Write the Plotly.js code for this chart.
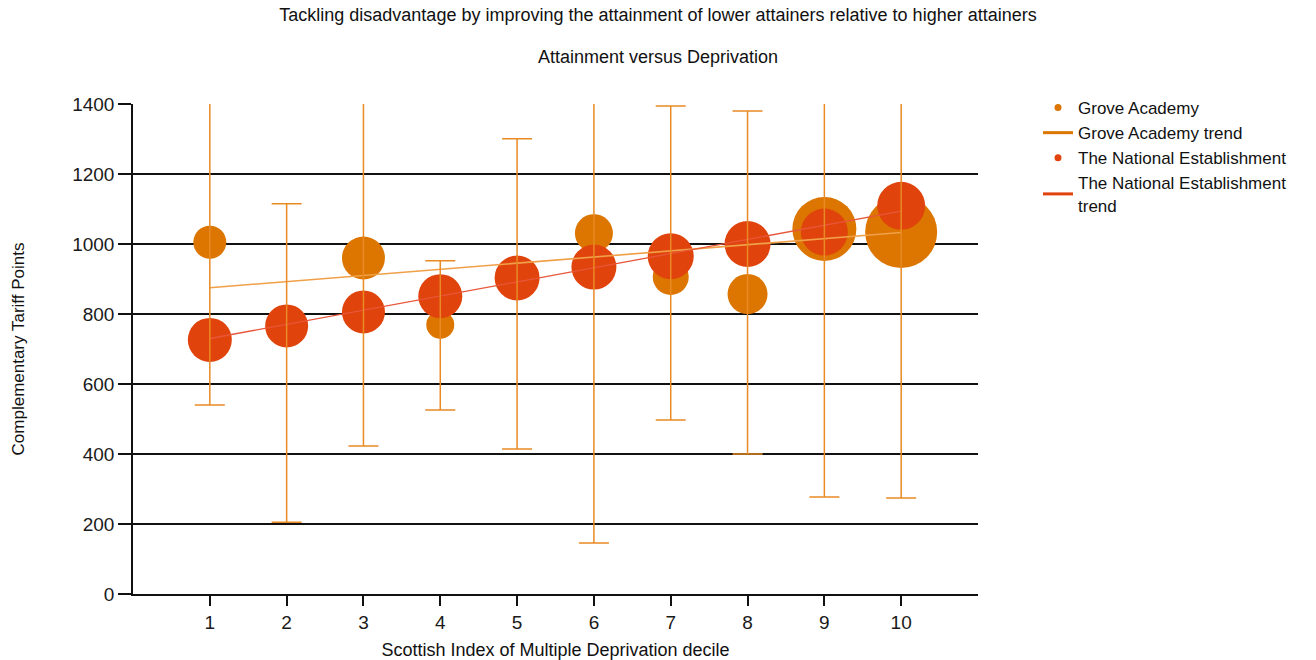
<!DOCTYPE html>
<html>
<head>
<meta charset="utf-8">
<script src="https://cdn.plot.ly/plotly-3.0.1.min.js"></script>
<style>html,body{margin:0;padding:0;background:#fff;}#chart{width:1316px;height:660px;}</style>
</head>
<body>
<div id="chart"></div>
<script>
// ---- data ----
var deciles = [1, 2, 3, 4, 5, 6, 7, 8, 9, 10];

var groveValues = [1005, 765, 960, 769, 900, 1031, 906, 857, 1043, 1034];
var groveBubble = [33, 28, 43, 28, 30, 38, 36, 40, 64, 72];
var groveHigh   = [1470, 1115, 1500, 952, 1301, 1920, 1394, 1380, 1810, 1795];
var groveLow    = [540, 205, 423, 526, 414, 146, 497, 400, 277, 274];

var nationalValues = [726, 766, 806, 851, 903, 934, 965, 1000, 1034, 1109];
var nationalBubble = [44, 43, 43, 44, 45, 45, 46, 46, 47, 48];

var trendX = [1, 10];
var groveTrend = [875, 1033];
var nationalTrend = [730, 1094];

var yTicks = [0, 200, 400, 600, 800, 1000, 1200, 1400];

var titleLine1 = 'Tackling disadvantage by improving the attainment of lower attainers relative to higher attainers';
var titleLine2 = 'Attainment versus Deprivation';

// ---- styles ----
var groveColor = '#DC7600';
var nationalColor = '#E0440C';
var errColor = '#E98A24';
var groveTrendColor = '#F0A048';
var nationalTrendColor = '#E8563A';
var fontFamily = '"Liberation Sans", Arial, sans-serif';

var errPlus = groveHigh.map(function (h, i) { return h - groveValues[i]; });
var errMinus = groveLow.map(function (l, i) { return groveValues[i] - l; });

var traces = [
  { // Grove bubbles
    x: deciles, y: groveValues, type: 'scatter', mode: 'markers',
    marker: { size: groveBubble, sizemode: 'diameter', color: groveColor, opacity: 1, line: { width: 0 } },
    showlegend: false, hoverinfo: 'x+y'
  },
  { // National bubbles
    x: deciles, y: nationalValues, type: 'scatter', mode: 'markers',
    marker: { size: nationalBubble, sizemode: 'diameter', color: nationalColor, opacity: 1, line: { width: 0 } },
    showlegend: false, hoverinfo: 'x+y'
  },
  { // Grove trend
    x: trendX, y: groveTrend, type: 'scatter', mode: 'lines',
    line: { color: groveTrendColor, width: 1.6 }, showlegend: false, hoverinfo: 'skip'
  },
  { // National trend
    x: trendX, y: nationalTrend, type: 'scatter', mode: 'lines',
    line: { color: nationalTrendColor, width: 1.3 }, showlegend: false, hoverinfo: 'skip'
  },
  { // Grove error bars (drawn on top)
    x: deciles, y: groveValues, type: 'scatter', mode: 'markers',
    marker: { size: 1, color: 'rgba(0,0,0,0)' },
    error_y: { type: 'data', symmetric: false, array: errPlus, arrayminus: errMinus,
               color: errColor, thickness: 1.5, width: 15 },
    showlegend: false, hoverinfo: 'skip'
  },
  // legend entries
  { x: [null], y: [null], type: 'scatter', mode: 'markers', name: 'Grove Academy',
    marker: { size: 7, color: groveColor } },
  { x: [null], y: [null], type: 'scatter', mode: 'lines', name: 'Grove Academy trend',
    line: { color: groveColor, width: 3 } },
  { x: [null], y: [null], type: 'scatter', mode: 'markers', name: 'The National Establishment',
    marker: { size: 7, color: nationalColor } },
  { x: [null], y: [null], type: 'scatter', mode: 'lines', name: 'The National Establishment<br>trend',
    line: { color: nationalColor, width: 3 } }
];

var layout = {
  width: 1316, height: 660,
  paper_bgcolor: '#fff', plot_bgcolor: '#fff',
  margin: { l: 133, r: 338, t: 104, b: 66, pad: 0 },
  font: { family: fontFamily, color: '#111', size: 15 },
  title: { text: titleLine1, font: { family: fontFamily, size: 18, color: '#111' },
           x: 0.5, xref: 'container', xanchor: 'center', y: 1 - 15 / 660, yref: 'container', yanchor: 'middle' },
  annotations: [
    { text: titleLine2, xref: 'paper', yref: 'paper', x: (658 - 133) / 845, y: 1 + 47 / 490,
      xanchor: 'center', yanchor: 'middle', showarrow: false,
      font: { family: fontFamily, size: 18, color: '#111' } }
  ],
  xaxis: {
    range: [0, 11], tickvals: deciles, ticktext: deciles.map(String),
    showline: true, linecolor: '#111', linewidth: 1.5, mirror: false,
    ticks: 'outside', ticklen: 10, tickwidth: 1.5, tickcolor: '#111',
    showgrid: false, zeroline: false,
    tickfont: { size: 19, color: '#1a1a1a' },
    title: { text: 'Scottish Index of Multiple Deprivation decile', font: { size: 18, color: '#111' }, standoff: 12 }
  },
  yaxis: {
    range: [0, 1400], tickvals: yTicks, ticktext: yTicks.map(String),
    showline: true, linecolor: '#111', linewidth: 1.5,
    ticks: 'outside', ticklen: 13, tickwidth: 1.5, tickcolor: '#111',
    showgrid: true, gridcolor: '#111', gridwidth: 1.5, zeroline: false,
    tickfont: { size: 19, color: '#1a1a1a' },
    title: { text: 'Complementary Tariff Points', font: { size: 17, color: '#111' }, standoff: 43 }
  },
  legend: {
    x: 1 + 60 / 845, xanchor: 'left', y: 1 + 14 / 490, yanchor: 'top',
    font: { size: 17, color: '#111' }, bgcolor: 'rgba(0,0,0,0)', tracegroupgap: 0,
    itemwidth: 30
  },
  showlegend: true,
  hovermode: 'closest'
};

Plotly.newPlot('chart', traces, layout, { displayModeBar: false });
</script>
</body>
</html>
